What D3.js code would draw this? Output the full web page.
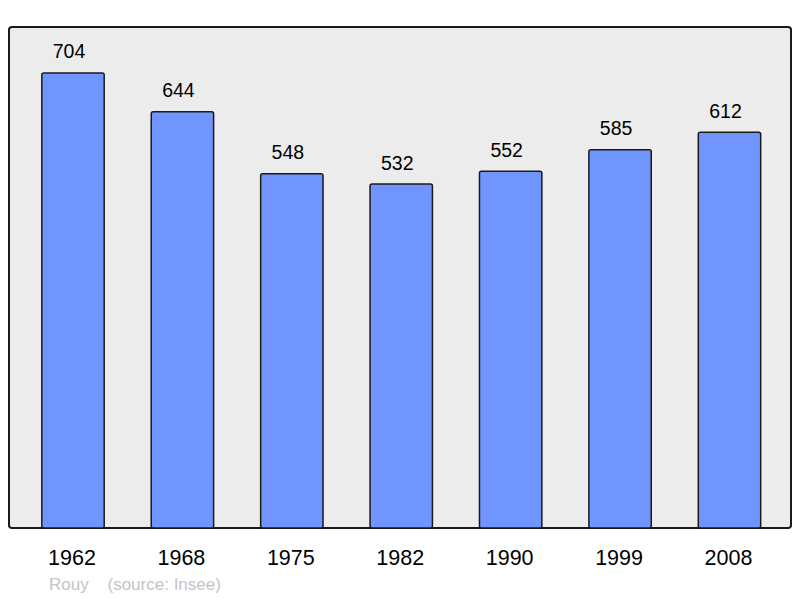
<!DOCTYPE html>
<html>
<head>
<meta charset="utf-8">
<script src="https://cdn.jsdelivr.net/npm/d3@7"></script>
<style>
  body { margin: 0; background: #fff; }
  text { font-family: "Liberation Sans", Arial, sans-serif; }
</style>
</head>
<body>
<svg width="800" height="598"></svg>
<script>
  const years = ['1962', '1968', '1975', '1982', '1990', '1999', '2008'];
  const population = [704, 644, 548, 532, 552, 585, 612];
  const place = 'Rouy';
  const source = '(source: Insee)';

  const svg = d3.select('svg');
  const frame = {left: 9, right: 791, top: 27, bottom: 528};

  svg.append('rect')
    .attr('x', frame.left)
    .attr('y', frame.top)
    .attr('width', frame.right - frame.left)
    .attr('height', frame.bottom - frame.top)
    .attr('rx', 3)
    .attr('fill', '#ececec')
    .attr('stroke', '#1a1a1a')
    .attr('stroke-width', 2);

  const x = d3.scaleBand()
    .domain(years)
    .range([18.3, 784.2])
    .paddingInner(0.43)
    .paddingOuter(0.215);

  const y = d3.scaleLinear()
    .domain([0, 775])
    .range([frame.bottom, frame.top]);

  const data = years.map((yr, i) => ({year: yr, value: population[i]}));

  svg.append('g')
    .selectAll('rect')
    .data(data)
    .enter()
    .append('rect')
      .attr('x', d => x(d.year))
      .attr('y', d => y(d.value))
      .attr('width', x.bandwidth())
      .attr('height', d => y(0) - y(d.value))
      .attr('rx', 2)
      .attr('fill', '#7095ff')
      .attr('stroke', '#1a1a1a')
      .attr('stroke-width', 1.5);

  // value labels sit a little left of the bar centre in the original
  svg.append('g')
    .selectAll('text')
    .data(data)
    .enter()
    .append('text')
      .attr('x', d => x(d.year) + x.bandwidth() / 2 - 4)
      .attr('y', d => y(d.value) - 14.5)
      .attr('text-anchor', 'middle')
      .style('font-size', '19.5px')
      .attr('fill', '#000')
      .text(d => d.value);

  svg.append('g')
    .selectAll('text')
    .data(years)
    .enter()
    .append('text')
      .attr('x', d => x(d) + x.bandwidth() / 2 - 1)
      .attr('y', 564.5)
      .attr('text-anchor', 'middle')
      .style('font-size', '21.5px')
      .attr('fill', '#000')
      .text(d => d);

  svg.append('text')
    .attr('x', 49)
    .attr('y', 590)
    .style('font-size', '17px')
    .attr('fill', '#c4c4c4')
    .text(place);

  svg.append('text')
    .attr('x', 107.5)
    .attr('y', 590)
    .style('font-size', '17px')
    .attr('fill', '#c4c4c4')
    .text(source);
</script>
</body>
</html>
